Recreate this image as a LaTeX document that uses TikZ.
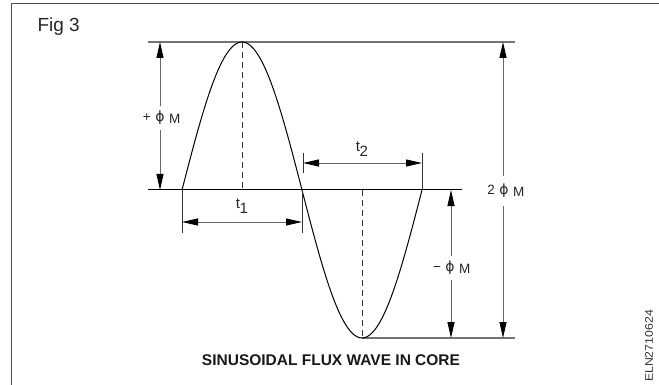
\documentclass[tikz,border=0pt]{standalone}
\usepackage{fontspec}
\setmainfont{Liberation Sans}
\newfontfamily\dvfont{DejaVu Sans}
\usetikzlibrary{arrows.meta}
\newcommand{\phisym}{{\dvfont\fontsize{14}{16}\selectfont ϕ}}
\newcommand{\dimtext}[1]{\llap{#1\hspace{4.5pt}}\phisym\rlap{\hspace{4.5pt}\raisebox{-1.5pt}{M}}}
\begin{document}
\begin{tikzpicture}[x=1pt,y=-1pt,
  ahead/.tip={Triangle[length=16pt,width=7pt,color=black]},
  dimline/.style={draw=black!60, line width=0.9pt, ahead-ahead},
  refline/.style={draw=black!55, line width=1.3pt},
  extline/.style={draw=black!80, line width=0.7pt},
  lbl/.style={font=\fontsize{15}{17}\selectfont, inner sep=1pt, text=black!85},
  gaplbl/.style={font=\fontsize{13.5}{16}\selectfont, text=black!85, fill=white, inner xsep=1pt, inner ysep=5pt}
]
\useasboundingbox (0,0) rectangle (659,385);
% frame
\draw[black!70, line width=1pt] (11,385) -- (11,4) -- (659,4);
\node[font=\fontsize{19}{22}\selectfont, anchor=west, text=black!85] (fig) at (34,27) {Fig 3};

% key coordinates
\coordinate (topL) at (148,42);
\coordinate (topR) at (515,42);
\coordinate (peak) at (242,42);
\coordinate (baseL) at (148,190);
\coordinate (baseR) at (462,190);
\coordinate (trough) at (362,338);
\coordinate (botR) at (515,338);
\coordinate (peakB) at (242,190);
\coordinate (troughT) at (362,190);

% reference lines
\draw[refline] (topL) -- (topR);
\draw[refline] (trough) -- (botR);
\draw[black, line width=1pt] (baseL) -- (baseR);

% sine wave
\draw[black, line width=1pt] plot[domain=182:422, samples=121, smooth] (\x, {190-148*sin((\x-182)*1.5)});

% dashed verticals
\draw[black!80, line width=0.8pt, dash pattern=on 6pt off 4pt] (peak) -- (peakB);
\draw[black!80, line width=0.8pt, dash pattern=on 6pt off 4pt] (troughT) -- (trough);

% +phi M
\coordinate (pA) at (160,42);
\coordinate (pB) at (160,190);
\draw[dimline] (pA) -- (pB);
\node[gaplbl] (plbl) at (160,118) {\dimtext{+}};

% 2 phi M
\coordinate (qA) at (503,42);
\coordinate (qB) at (503,338);
\draw[dimline] (qA) -- (qB);
\node[gaplbl, inner ysep=8pt] (qlbl) at (504,191) {\dimtext{2}};

% - phi M
\coordinate (mA) at (451,190);
\coordinate (mB) at (451,338);
\draw[dimline] (mA) -- (mB);
\node[gaplbl] (mlbl) at (450,268) {\dimtext{−}};

% t1
\coordinate (e1a) at (182,190);
\coordinate (e1b) at (182,233);
\coordinate (e2a) at (302,190);
\coordinate (e2b) at (302,233);
\draw[extline] (e1a) -- (e1b);
\draw[extline] (e2a) -- (e2b);
\coordinate (t1a) at (182,222);
\coordinate (t1b) at (302,222);
\draw[dimline] (t1a) -- (t1b);
\node[lbl] (t1lbl) at (242,206) {t\kern-0.5pt\raisebox{-5pt}{1}};

% t2
\coordinate (e3a) at (303,153);
\coordinate (e3b) at (303,173);
\coordinate (e4a) at (422,153);
\coordinate (e4b) at (422,190);
\draw[extline] (e3a) -- (e3b);
\draw[extline] (e4a) -- (e4b);
\coordinate (t2a) at (303,163);
\coordinate (t2b) at (422,163);
\draw[dimline] (t2a) -- (t2b);
\node[lbl] (t2lbl) at (362,149) {t\kern-0.5pt\raisebox{-5pt}{2}};

% caption
\node[font=\bfseries\fontsize{15.5}{18}\selectfont, text=black!90] (cap) at (331,360) {SINUSOIDAL FLUX WAVE IN CORE};

% code
\node[rotate=90, font=\fontsize{11}{13}\selectfont, text=black!80, inner sep=0pt] (code) at (649,346) {\scalebox{1.12}[1]{ELN2710624}};
\end{tikzpicture}
\end{document}
